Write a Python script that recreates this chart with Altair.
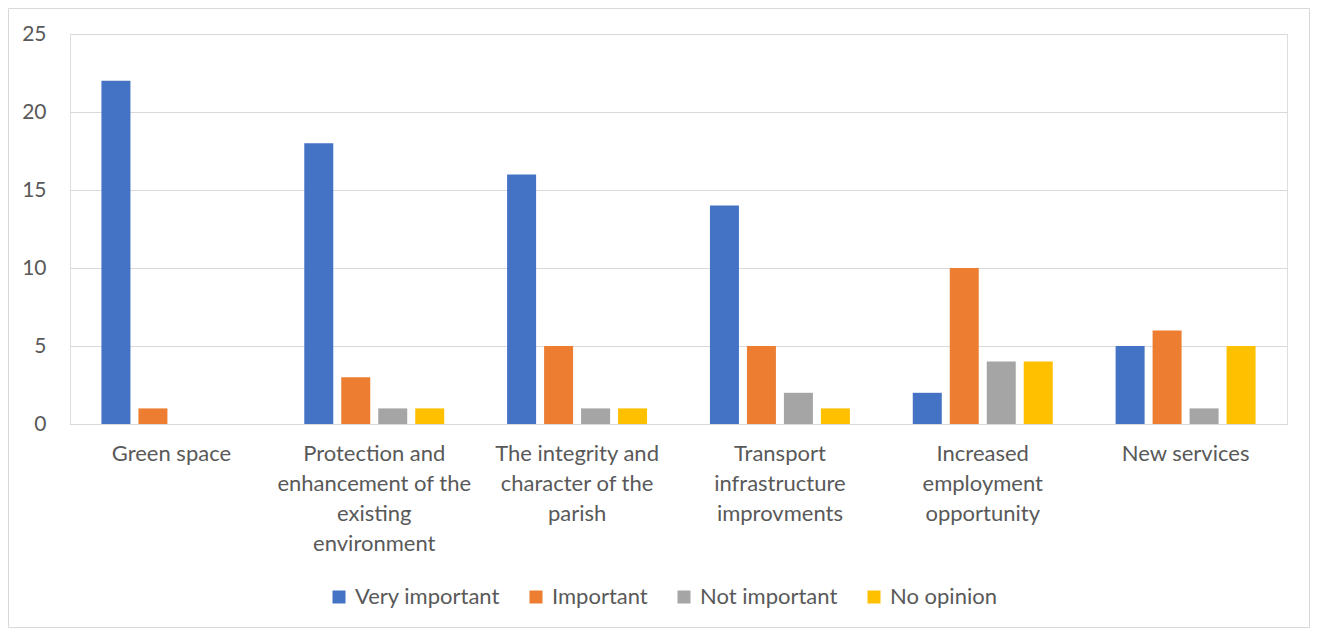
import altair as alt
import pandas as pd

categories = ["Green space",
              "Protection and enhancement of the existing environment",
              "The integrity and character of the parish",
              "Transport infrastructure improvments",
              "Increased employment opportunity",
              "New services"]
category_lines = [["Green space"],
                  ["Protection and", "enhancement of the", "existing", "environment"],
                  ["The integrity and", "character of the", "parish"],
                  ["Transport", "infrastructure", "improvments"],
                  ["Increased", "employment", "opportunity"],
                  ["New services"]]
series = ["Very important", "Important", "Not important", "No opinion"]
colors = ["#4472C4", "#ED7D31", "#A5A5A5", "#FFC000"]
very_important = [22, 18, 16, 14, 2, 5]
important = [1, 3, 5, 5, 10, 6]
not_important = [0, 1, 1, 2, 4, 1]
no_opinion = [0, 1, 1, 1, 4, 5]

rows = []
for s, vals in zip(series, [very_important, important, not_important, no_opinion]):
    for c, v in zip(categories, vals):
        rows.append({"category": c, "series": s, "value": v})
df = pd.DataFrame(rows)

label_map = "{" + ",".join(
    "'" + c + "':[" + ",".join("'" + l + "'" for l in ls) + "]"
    for c, ls in zip(categories, category_lines)) + "}"

FONT = "Lato"
W, H = 1217, 390

bars = alt.Chart(df).mark_bar().encode(
    x=alt.X("category:N", sort=categories, title=None,
            scale=alt.Scale(paddingInner=0.31, paddingOuter=0.155),
            axis=alt.Axis(labelAngle=0, ticks=False, domain=True, domainColor="#D9D9D9",
                          labelPadding=19, labelFontSize=22, labelColor="#595959",
                          labelFont=FONT, labelLineHeight=30, labelLimit=300,
                          labelExpr=label_map + "[datum.label]")),
    xOffset=alt.XOffset("series:N", sort=series,
                        scale=alt.Scale(paddingInner=0.216, paddingOuter=0)),
    y=alt.Y("value:Q", title=None,
            scale=alt.Scale(domain=[0, 25]),
            axis=alt.Axis(values=[0, 5, 10, 15, 20, 25], domain=False, ticks=False,
                          gridColor="#D9D9D9", labelPadding=24, labelFontSize=21,
                          labelColor="#595959", labelFont=FONT)),
    color=alt.Color("series:N", sort=series,
                    scale=alt.Scale(domain=series, range=colors),
                    legend=alt.Legend(title=None, orient="none", direction="horizontal",
                                      legendX=258, legendY=552, symbolType="square",
                                      symbolSize=169, symbolStrokeWidth=0,
                                      labelFontSize=22, labelColor="#595959",
                                      labelFont=FONT, columnPadding=25, labelOffset=5)),
)

border = alt.Chart(pd.DataFrame({"a": [0]})).mark_rect(
    fill=None, stroke="#D9D9D9", strokeWidth=1
).encode(x=alt.value(-61.5), x2=alt.value(1239.5), y=alt.value(-25.5), y2=alt.value(593.5))

chart = alt.layer(border, bars).properties(
    width=W, height=H,
    autosize=alt.AutoSizeParams(type="none"),
    padding={"left": 62, "top": 26, "right": 23, "bottom": 204},
).configure_view(stroke=None).configure(background="white")

chart.save("out.html", embed_options={"renderer": "svg", "actions": False})
